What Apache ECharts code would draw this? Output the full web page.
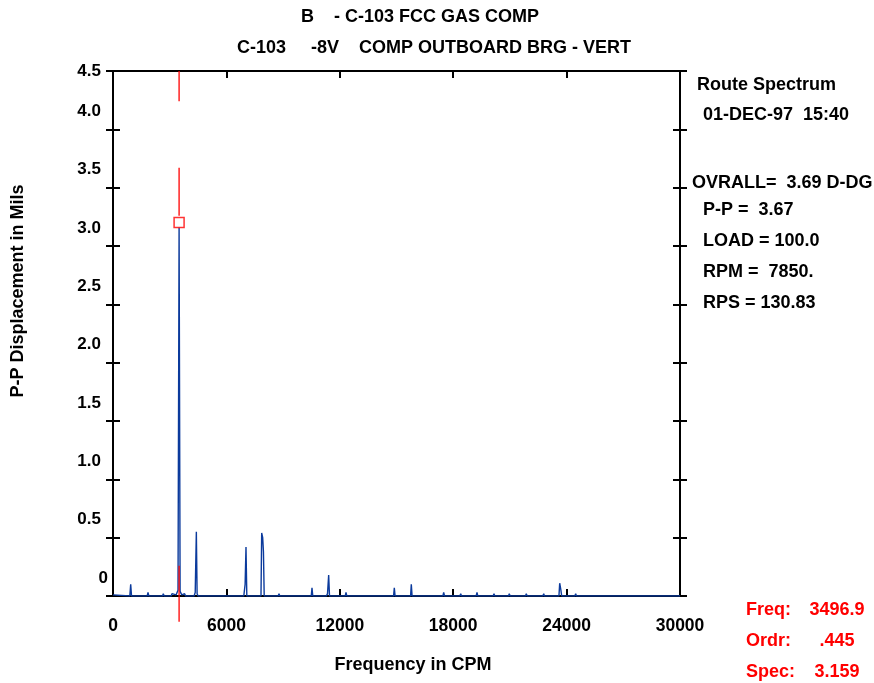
<!DOCTYPE html>
<html>
<head>
<meta charset="utf-8">
<script src="https://cdn.jsdelivr.net/npm/echarts@6/dist/echarts.min.js"></script>
<style>
html,body{margin:0;padding:0;background:#fff;}
#chart{width:874px;height:683px;}
</style>
</head>
<body>
<div id="chart"></div>
<script>
// ---- data ----
var titleLines = ['B    - C-103 FCC GAS COMP', 'C-103     -8V    COMP OUTBOARD BRG - VERT'];
var infoLines = ['Route Spectrum', '01-DEC-97  15:40', 'OVRALL=  3.69 D-DG', 'P-P =  3.67', 'LOAD = 100.0', 'RPM =  7850.', 'RPS = 130.83'];
var cursorLabels = ['Freq:', 'Ordr:', 'Spec:'];
var cursorValues = ['3496.9', '.445', '3.159'];
var xTitle = 'Frequency in CPM';
var yTitle = 'P-P Displacement in Mils';
var xTicks = [0, 6000, 12000, 18000, 24000, 30000];
var yTicks = [0, 0.5, 1.0, 1.5, 2.0, 2.5, 3.0, 3.5, 4.0, 4.5];

var specFreq = [0, 890, 936, 980, 1810, 1852, 1895, 2620, 2662, 2705, 3080, 3120, 3160, 3340, 3440, 3496.9, 3550, 3640, 3720, 3790, 3840, 4290, 4350, 4410, 4450, 4500, 6920, 6990, 7037, 7080, 7830, 7867, 7920, 7960, 8000, 8740, 8783, 8825, 10490, 10529, 10570, 11290, 11350, 11411, 11455, 12290, 12328, 12370, 14845, 14884, 14925, 15745, 15783, 15825, 17455, 17497, 17540, 18355, 18397, 18440, 19215, 19259, 19300, 20115, 20159, 20200, 20925, 20968, 21010, 21825, 21868, 21910, 22745, 22788, 22830, 23595, 23635, 23690, 23740, 24440, 24480, 24520, 26215, 26259, 26300, 27115, 27159, 27200, 30000];
var specAmp  = [0.01, 0, 0.10, 0, 0, 0.03, 0, 0, 0.02, 0, 0, 0.02, 0.01, 0.01, 0.05, 3.159, 0.04, 0.01, 0.01, 0.02, 0, 0, 0.03, 0.55, 0.02, 0, 0, 0.10, 0.42, 0, 0, 0.54, 0.50, 0.38, 0, 0, 0.02, 0, 0, 0.07, 0, 0, 0.02, 0.18, 0, 0, 0.03, 0, 0, 0.07, 0, 0, 0.10, 0, 0, 0.03, 0, 0, 0.02, 0, 0, 0.03, 0, 0, 0.02, 0, 0, 0.02, 0, 0, 0.02, 0, 0, 0.02, 0, 0, 0.11, 0.06, 0, 0, 0.02, 0, 0, 0.01, 0, 0, 0.01, 0, 0];

var cursorFreq = 3496.9;
var cursorSpec = 3.159;
var cursorSegStart = [4.5, 3.67, 0.26];
var cursorSegEnd   = [4.24, 3.26, -0.22];

// ---- build ----
var FONT = '"Liberation Sans", Arial, sans-serif';
var spec = specFreq.map(function (f, i) { return [f, specAmp[i]]; });
var cursorData = [];
cursorSegStart.forEach(function (s, i) {
  if (i > 0) cursorData.push([cursorFreq, '-']);
  cursorData.push([cursorFreq, s]);
  cursorData.push([cursorFreq, cursorSegEnd[i]]);
});

var yMin = yTicks[0], yMax = yTicks[yTicks.length - 1], yInt = yTicks[1] - yTicks[0];
var xMin = xTicks[0], xMax = xTicks[xTicks.length - 1], xInt = xTicks[1] - xTicks[0];

function yLabel(v) {
  if (v === 0) return '{z|0}\n{z| }';
  var t = v.toFixed(1);
  if (v === yMax) return '{n|' + t + '}';
  return '{n|' + t + '}\n{n| }';
}
var labelStyle = { fontFamily: FONT, fontWeight: 'bold', fontSize: 17, color: '#000', lineHeight: 36 };

function yAxisDef(pos, inside, showLabel) {
  return {
    type: 'value', position: pos, min: yMin, max: yMax, interval: yInt,
    axisLine: { show: true, onZero: false, lineStyle: { color: '#000', width: 2 } },
    axisTick: { show: true, inside: inside, length: 7, lineStyle: { color: '#000', width: 2 } },
    splitLine: { show: false },
    axisLabel: showLabel ? {
      show: true, margin: 5, align: 'right', formatter: yLabel,
      rich: {
        n: Object.assign({ padding: [0, 7, 0, 0] }, labelStyle),
        z: Object.assign({}, labelStyle)
      }
    } : { show: false }
  };
}
function xAxisDef(pos, showLabel) {
  return {
    type: 'value', position: pos, min: xMin, max: xMax, interval: xInt,
    axisLine: { show: true, onZero: false, lineStyle: { color: '#000', width: 2 } },
    axisTick: { show: true, inside: true, length: 7, lineStyle: { color: '#000', width: 2 } },
    splitLine: { show: false },
    axisLabel: showLabel ? {
      show: true, margin: 21, fontFamily: FONT, fontWeight: 'bold', fontSize: 17.5, color: '#000',
      formatter: function (v) { return String(v); }
    } : { show: false }
  };
}

function txt(s, x, y, color, align, rot) {
  var el = {
    type: 'text', x: x, y: y, z: 100,
    style: { text: s, font: 'bold 18px ' + FONT, fill: color || '#000', align: align || 'left', verticalAlign: 'middle' }
  };
  if (rot) el.rotation = rot;
  return el;
}

var infoY = [85, 115, 183, 210, 241, 272, 303];
var infoX = [697, 703, 692, 703, 703, 703, 703];
var graphics = [];
graphics.push(txt(titleLines[0], 420, 17, '#000', 'center'));
graphics.push(txt(titleLines[1], 434, 48, '#000', 'center'));
infoLines.forEach(function (s, i) { graphics.push(txt(s, infoX[i], infoY[i])); });
var cY = [610, 641, 672];
cursorLabels.forEach(function (s, i) {
  graphics.push(txt(s, 746, cY[i], '#ff0000', 'left'));
  graphics.push(txt(cursorValues[i], 837, cY[i], '#ff0000', 'center'));
});
graphics.push(txt(xTitle, 413, 665, '#000', 'center'));
graphics.push(txt(yTitle, 18, 291, '#000', 'center', Math.PI / 2));

var chart = echarts.init(document.getElementById('chart'), null, { renderer: 'canvas' });
chart.setOption({
  backgroundColor: '#fff',
  animation: false,
  grid: { left: 113, right: 194, top: 71, bottom: 87, containLabel: false },
  xAxis: [xAxisDef('bottom', true), xAxisDef('top', false)],
  yAxis: [yAxisDef('left', false, true), yAxisDef('left', true, false), yAxisDef('right', false, false), yAxisDef('right', true, false)],
  graphic: graphics,
  series: [
    {
      type: 'line', data: spec, xAxisIndex: 0, yAxisIndex: 0,
      showSymbol: false, symbol: 'none', clip: true,
      lineStyle: { color: '#0b3a9c', width: 1.4 }, z: 3
    },
    {
      type: 'line', data: cursorData, xAxisIndex: 0, yAxisIndex: 0,
      showSymbol: false, symbol: 'none', clip: false, connectNulls: false,
      lineStyle: { color: '#ff0000', width: 1.3 }, z: 4
    },
    {
      type: 'scatter', data: [[cursorFreq, cursorSpec]], xAxisIndex: 0, yAxisIndex: 0,
      symbol: 'rect', symbolSize: 10, symbolOffset: [0, -5], clip: false,
      itemStyle: { color: '#fff', borderColor: '#ff0000', borderWidth: 1.5 }, z: 5
    }
  ]
});
</script>
</body>
</html>
